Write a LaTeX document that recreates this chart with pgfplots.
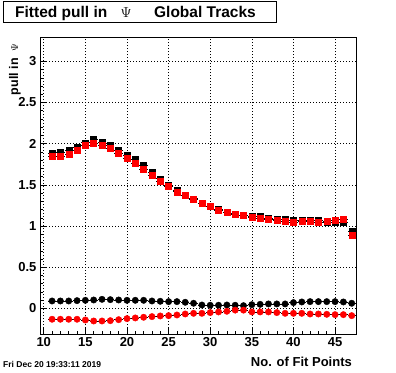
\documentclass[border=0pt]{standalone}
\usepackage{pgfplots}
\usepackage{pgfplotstable}
\pgfplotsset{compat=1.18}
\usepackage{fontspec}
\setmainfont{Liberation Sans}

\pgfplotstableread{
x  a      b      c      d
11 1.887  1.851  0.091  -0.131
12 1.896  1.851  0.091  -0.131
13 1.920  1.871  0.091  -0.131
14 1.956  1.915  0.095  -0.131
15 2.012  1.976  0.099  -0.140
16 2.049  2.005  0.103  -0.152
17 2.020  1.976  0.111  -0.152
18 1.980  1.944  0.107  -0.148
19 1.920  1.883  0.103  -0.136
20 1.863  1.818  0.099  -0.123
21 1.806  1.762  0.099  -0.115
22 1.733  1.689  0.099  -0.107
23 1.653  1.620  0.091  -0.099
24 1.575  1.539  0.087  -0.091
25 1.495  1.478  0.083  -0.087
26 1.430  1.417  0.083  -0.079
27 1.378  1.369  0.075  -0.067
28 1.330  1.321  0.063  -0.059
29 1.280  1.272  0.042  -0.059
30 1.240  1.236  0.039  -0.050
31 1.200  1.195  0.039  -0.042
32 1.165  1.163  0.042  -0.034
33 1.150  1.139  0.039  -0.020
34 1.135  1.127  0.034  -0.020
35 1.120  1.102  0.046  -0.042
36 1.120  1.090  0.050  -0.042
37 1.094  1.086  0.055  -0.042
38 1.086  1.066  0.055  -0.050
39 1.082  1.054  0.055  -0.059
40 1.074  1.042  0.071  -0.059
41 1.074  1.054  0.079  -0.059
42 1.074  1.054  0.083  -0.067
43 1.066  1.050  0.083  -0.067
44 1.050  1.062  0.083  -0.071
45 1.042  1.074  0.083  -0.075
46 1.042  1.086  0.079  -0.075
47 0.932  0.888  0.063  -0.087
}\datatable

\begin{document}
\begin{tikzpicture}[x=1pt,y=1pt]
\useasboundingbox[fill=white] (0pt,0pt) rectangle (396pt,-372pt);
\begin{axis}[
  at={(40pt,-334pt)}, anchor=south west,
  width=316.7pt, height=297pt, scale only axis,
  xmin=9.55, xmax=47.6, ymin=-0.31, ymax=3.295,
  xtick={10,15,...,45}, ytick={0,0.5,...,3},
  minor x tick num=4, minor y tick num=4,
  xtick pos=bottom, ytick pos=left,
  tick align=inside,
  major tick length=6pt, minor tick length=3pt,
  axis line style={line width=0.8pt},
  every tick/.style={black, line width=0.5pt},
  grid=major,
  major grid style={black, line width=0.5pt, dash pattern=on 1pt off 2pt},
  /pgf/number format/assume math mode=true,
  ticklabel style={font=\bfseries\fontsize{13}{13}\selectfont},
  clip=false,
]
\addplot[only marks, mark=square*, mark size=3pt, black,
  error bars/.cd, x dir=both, x fixed=0.5, error mark=none,
  error bar style={black, line width=0.8pt}]
  table[x=x, y=a] {\datatable};
\addplot[only marks, mark=square*, mark size=3pt, red, mark options={fill=red, draw=red},
  error bars/.cd, x dir=both, x fixed=0.5, error mark=none,
  error bar style={black, line width=0.8pt}]
  table[x=x, y=b] {\datatable};
\addplot[only marks, mark=*, mark size=3.2pt, black,
  error bars/.cd, x dir=both, x fixed=0.5, error mark=none,
  error bar style={black, line width=0.8pt}]
  table[x=x, y=c] {\datatable};
\addplot[only marks, mark=*, mark size=3.2pt, red, mark options={fill=red, draw=red},
  error bars/.cd, x dir=both, x fixed=0.5, error mark=none,
  error bar style={black, line width=0.8pt}]
  table[x=x, y=d] {\datatable};
\end{axis}
% title box
\draw[line width=0.8pt, fill=white] (3pt,-1pt) rectangle (276pt,-22pt);
\node[anchor=base west, inner sep=0pt, font=\bfseries\fontsize{15.5}{15.5}\selectfont] at (15pt,-17pt) {Fitted pull in};
\node[anchor=base, inner sep=0pt, font=\fontsize{15.5}{15.5}\selectfont] at (126pt,-17pt) {$\Psi$};
\node[anchor=base east, inner sep=0pt, font=\bfseries\fontsize{15.5}{15.5}\selectfont] at (256pt,-17pt) {Global Tracks};
% y label
\node[rotate=90, anchor=east, inner sep=0pt, font=\bfseries\fontsize{12.5}{12.5}\selectfont] at (15pt,-44pt) {pull in\hspace{0.5em}{\mdseries\fontsize{10}{10}\selectfont$\Psi$}};
% x label
\node[anchor=base east, inner sep=0pt, font=\bfseries\fontsize{13}{13}\selectfont] at (352pt,-366pt) {No. of Fit Points};
% date
\node[anchor=base west, inner sep=0pt, font=\bfseries\fontsize{8.5}{8.5}\selectfont] at (3pt,-367pt) {Fri Dec 20 19:33:11 2019};
\end{tikzpicture}
\end{document}
